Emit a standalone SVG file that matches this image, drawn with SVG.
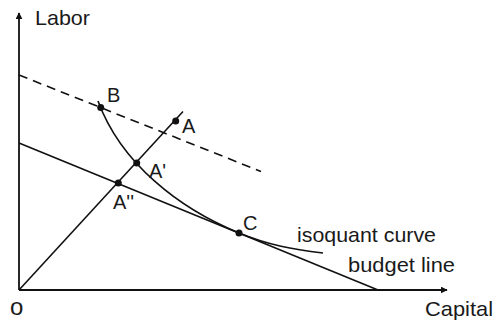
<svg xmlns="http://www.w3.org/2000/svg" width="494" height="323" viewBox="0 0 494 323">
<style>
.ln{fill:none;stroke:#111;stroke-width:1.6}
.ax{fill:none;stroke:#111;stroke-width:1.8}
.t{font-family:"Liberation Sans",Arial,sans-serif;fill:#1a1a1a;font-size:21px}
.l{font-family:"Liberation Sans",Arial,sans-serif;fill:#1a1a1a;font-size:20px}
.d{fill:#111}
</style>
<defs>
<marker id="arr" viewBox="0 0 10 10" refX="9" refY="5" markerWidth="7" markerHeight="7" markerUnits="userSpaceOnUse" orient="auto">
<path d="M0,0 L10,5 L0,10 z" fill="#111"/>
</marker>
</defs>
<rect width="494" height="323" fill="#fff"/>
<g id="axes">
<line class="ax" x1="19" y1="290" x2="19" y2="13" marker-end="url(#arr)"/>
<line class="ax" x1="19" y1="290" x2="447" y2="290" marker-end="url(#arr)"/>
</g>
<g id="connectors">
<line id="dashed-line" class="ln" x1="19" y1="75" x2="261" y2="171.5" stroke-dasharray="9,6"/>
<line id="budget-line" class="ln" x1="19" y1="143" x2="378" y2="290"/>
<line id="ray" class="ln" x1="19" y1="290" x2="183" y2="111.5"/>
<path id="isoquant" class="ln" d="M98,101 C121,163.5 179,208.4 239,233 C269,245.3 293,249.4 323,253"/>
</g>
<g id="node-B"><circle class="d" cx="100.7" cy="107.5" r="3.5"/><text class="l" x="107" y="102">B</text></g>
<g id="node-A"><circle class="d" cx="175.7" cy="121" r="3.5"/><text class="l" x="182" y="133">A</text></g>
<g id="node-A1"><circle class="d" cx="136.7" cy="163" r="3.5"/><text class="l" x="149" y="178">A'</text></g>
<g id="node-A2"><circle class="d" cx="118.3" cy="183" r="3.5"/><text class="l" x="113" y="209">A''</text></g>
<g id="node-C"><circle class="d" cx="239" cy="233" r="3.5"/><text class="l" x="243" y="230">C</text></g>
<g id="labels">
<text class="t" x="35" y="25" textLength="55" lengthAdjust="spacingAndGlyphs">Labor</text>
<text class="t" x="425" y="316" textLength="68" lengthAdjust="spacingAndGlyphs">Capital</text>
<text class="t" x="297" y="242" textLength="139" lengthAdjust="spacingAndGlyphs">isoquant curve</text>
<text class="t" x="348" y="272" textLength="107" lengthAdjust="spacingAndGlyphs">budget line</text>
<text class="t" x="10" y="315" style="font-size:24px">o</text>
</g>
</svg>
